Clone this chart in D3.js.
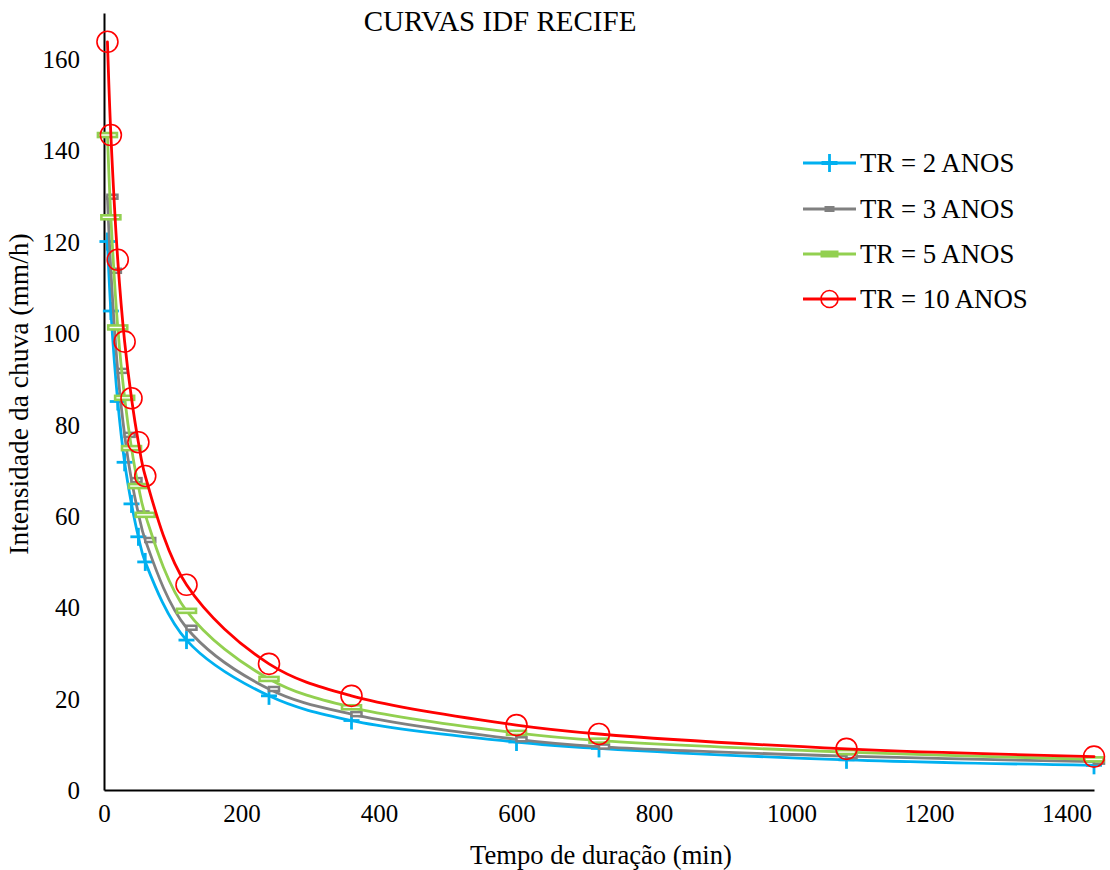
<!DOCTYPE html>
<html>
<head>
<meta charset="utf-8">
<script src="https://cdn.jsdelivr.net/npm/d3@7"></script>
<style>
  html, body { margin: 0; padding: 0; background: #fff; }
  svg, svg text { font-family: 'Liberation Serif', 'Times New Roman', serif; }
</style>
</head>
<body>
<svg id="chart" width="1110" height="870"></svg>
<script>
// ---- data ----
const durations = [5, 10, 20, 30, 40, 50, 60, 120, 240, 360, 600, 720, 1080, 1440];
const tr2  = [120.0, 104.8, 85.0, 71.7, 62.6, 55.4, 49.9, 32.8, 20.6, 15.2, 10.5, 9.1, 6.6, 5.4];
const tr3  = [129.8, 113.6, 91.7, 77.7, 67.8, 60.5, 54.7, 35.5, 22.1, 16.6, 11.1, 9.5, 7.4, 6.2];
const tr5  = [143.3, 125.3, 101.2, 85.8, 74.8, 66.5, 60.2, 39.2, 24.3, 18.1, 12.5, 10.8, 8.3, 6.7];
const tr10 = [163.7, 143.3, 116.0, 98.1, 85.7, 76.1, 68.7, 44.9, 27.6, 20.6, 14.2, 12.25, 9.0, 7.3];
const seriesNames = ["TR = 2 ANOS", "TR = 3 ANOS", "TR = 5 ANOS", "TR = 10 ANOS"];
const xTicks = [0, 200, 400, 600, 800, 1000, 1200, 1400];
const yTicks = [0, 20, 40, 60, 80, 100, 120, 140, 160];
const chartTitle = "CURVAS IDF RECIFE";
const xLabel = "Tempo de duração (min)";
const yLabel = "Intensidade da chuva (mm/h)";

// ---- styles ----
const FONT = "'Liberation Serif', 'Times New Roman', serif";
const styles = [
  { color: "#00B0F0", marker: "cross",  dx: 0 },
  { color: "#808080", marker: "small",  dx: 5 },
  { color: "#92D050", marker: "wide",   dx: 0 },
  { color: "#FF0000", marker: "circle", dx: 0 }
];
const seriesValues = [tr2, tr3, tr5, tr10];

const svg = d3.select("#chart");
const plotLeft = 104, plotRight = 1094, plotTop = 13, plotBottom = 790;

const x = d3.scaleLinear().domain([0, 1440]).range([plotLeft, plotRight]);
const y = d3.scaleLinear().domain([0, 170]).range([plotBottom, plotTop]);

// axes
const xAxis = d3.axisBottom(x).tickValues(xTicks).tickSize(0).tickPadding(14).tickFormat(d3.format("d"));
const yAxis = d3.axisLeft(y).tickValues(yTicks).tickSize(0).tickPadding(24).tickFormat(d3.format("d"));

const gx = svg.append("g").attr("transform", `translate(0,${plotBottom})`).call(xAxis);
const gy = svg.append("g").attr("transform", `translate(${plotLeft},0)`).call(yAxis);
[gx, gy].forEach(g => {
  g.attr("font-family", null).style("font-family", FONT).attr("font-size", 25);
  g.select(".domain").attr("stroke", "#000").attr("stroke-width", 2);
  g.selectAll("text").attr("fill", "#000").style("font-family", FONT).style("font-size", "25px");
});
gy.selectAll("text").attr("dy", "0.35em");

// marker drawing
function drawMarker(g, type, color, cx, cy, legend) {
  if (type === "cross") {
    const h = 9, w = 8;
    g.append("line").attr("x1", cx - w).attr("x2", cx + w).attr("y1", cy).attr("y2", cy)
      .attr("stroke", color).attr("stroke-width", legend ? 4 : 2.8);
    g.append("line").attr("x1", cx).attr("x2", cx).attr("y1", cy - h).attr("y2", cy + h)
      .attr("stroke", color).attr("stroke-width", 2.8);
  } else if (type === "small") {
    if (legend) {
      g.append("rect").attr("x", cx - 5).attr("y", cy - 3).attr("width", 10).attr("height", 6).attr("fill", color);
    } else {
      g.append("rect").attr("x", cx - 5).attr("y", cy - 2).attr("width", 10).attr("height", 4)
        .attr("fill", "#fff").attr("stroke", color).attr("stroke-width", 2.5);
    }
  } else if (type === "wide") {
    if (legend) {
      g.append("rect").attr("x", cx - 9).attr("y", cy - 3.5).attr("width", 18).attr("height", 7).attr("fill", color);
    } else {
      g.append("rect").attr("x", cx - 9.5).attr("y", cy - 2).attr("width", 19).attr("height", 4)
        .attr("fill", "#fff").attr("stroke", color).attr("stroke-width", 2.6);
    }
  } else if (type === "circle") {
    g.append("circle").attr("cx", cx).attr("cy", cy).attr("r", legend ? 8.5 : 10.5)
      .attr("fill", "none").attr("stroke", color).attr("stroke-width", 1.6);
  }
}

const line = d3.line()
  .x(d => x(d[0]))
  .y(d => y(d[1]))
  .curve(d3.curveCatmullRom.alpha(0.5));

seriesValues.forEach((vals, i) => {
  const st = styles[i];
  const pts = durations.map((t, k) => [t, vals[k]]);
  const g = svg.append("g");
  g.append("path").datum(pts).attr("d", line)
    .attr("fill", "none").attr("stroke", st.color).attr("stroke-width", 2.8)
    .attr("stroke-linejoin", "round").attr("stroke-linecap", "round");
  pts.forEach(p => drawMarker(g, st.marker, st.color, x(p[0]) + st.dx, y(p[1]), false));
});

// legend
const legendY = [163, 209, 254, 299];
seriesNames.forEach((name, i) => {
  const st = styles[i];
  const g = svg.append("g");
  g.append("line").attr("x1", 803).attr("x2", 856).attr("y1", legendY[i]).attr("y2", legendY[i])
    .attr("stroke", st.color).attr("stroke-width", 2.8);
  drawMarker(g, st.marker, st.color, 829.5, legendY[i], true);
  g.append("text").attr("x", 860).attr("y", legendY[i]).attr("dy", "0.35em")
    .style("font-family", FONT).style("font-size", "26.8px").attr("fill", "#000").text(name);
});

// title and axis labels
svg.append("text").attr("x", 500).attr("y", 31).attr("text-anchor", "middle")
  .style("font-family", FONT).style("font-size", "29px").attr("fill", "#000").text(chartTitle);
svg.append("text").attr("x", 601).attr("y", 864).attr("text-anchor", "middle")
  .style("font-family", FONT).style("font-size", "26.6px").attr("fill", "#000").text(xLabel);
svg.append("text").attr("transform", "translate(28,394) rotate(-90)").attr("text-anchor", "middle")
  .style("font-family", FONT).style("font-size", "27.5px").attr("fill", "#000").text(yLabel);
</script>
</body>
</html>
